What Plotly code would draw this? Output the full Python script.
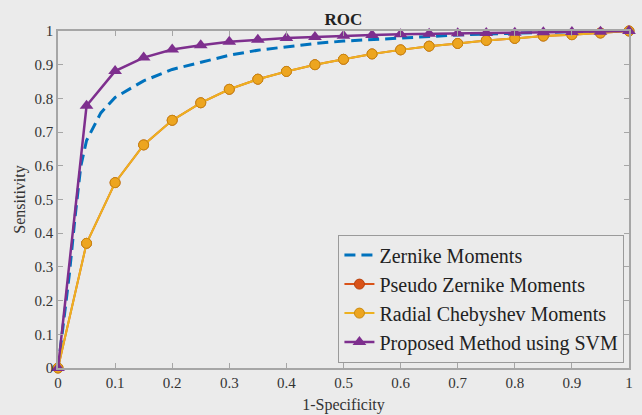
import plotly.graph_objects as go

# 1-Specificity sample points for marker series
fpr = [0, 0.05, 0.1, 0.15, 0.2, 0.25, 0.3, 0.35, 0.4, 0.45, 0.5,
       0.55, 0.6, 0.65, 0.7, 0.75, 0.8, 0.85, 0.9, 0.95, 1.0]

# Zernike Moments (smooth dashed curve)
zm_fpr = [0, 0.01, 0.02, 0.03, 0.04, 0.05, 0.075, 0.1, 0.15, 0.2, 0.25, 0.3,
          0.35, 0.4, 0.45, 0.5, 0.55, 0.6, 0.65, 0.7, 0.75, 0.8, 0.85, 0.9, 0.95, 1.0]
zm_tpr = [0, 0.14, 0.28, 0.45, 0.6, 0.675, 0.757, 0.803, 0.852, 0.886, 0.908, 0.928,
          0.943, 0.953, 0.963, 0.97, 0.975, 0.98, 0.984, 0.988, 0.991, 0.994, 0.996,
          0.998, 0.999, 1.0]

# Pseudo Zernike Moments (hidden beneath Radial Chebyshev)
pzm_tpr = [0, 0.37, 0.55, 0.662, 0.735, 0.787, 0.827, 0.857, 0.88, 0.9, 0.916,
           0.932, 0.944, 0.955, 0.963, 0.972, 0.978, 0.985, 0.989, 0.994, 1.0]

# Radial Chebyshev Moments
rcm_tpr = [0, 0.37, 0.55, 0.662, 0.735, 0.787, 0.827, 0.857, 0.88, 0.9, 0.916,
           0.932, 0.944, 0.955, 0.963, 0.972, 0.978, 0.985, 0.989, 0.994, 1.0]

# Proposed Method using SVM
svm_tpr = [0, 0.778, 0.881, 0.921, 0.945, 0.958, 0.968, 0.974, 0.979, 0.982, 0.986,
           0.988, 0.99, 0.992, 0.993, 0.994, 0.995, 0.996, 0.997, 0.998, 1.0]

names = ["Zernike Moments", "Pseudo Zernike Moments",
         "Radial Chebyshev Moments", "Proposed Method using SVM"]

BG = "#ebebeb"
FONT = "Liberation Serif, Times New Roman, Times, serif"

fig = go.Figure()
fig.add_trace(go.Scatter(x=zm_fpr, y=zm_tpr, mode="lines", name=names[0],
                         line=dict(color="#0072BD", width=3, dash="11px,6px"),
                         cliponaxis=False))
fig.add_trace(go.Scatter(x=fpr, y=pzm_tpr, mode="lines+markers", name=names[1],
                         line=dict(color="#D95319", width=2),
                         marker=dict(symbol="circle", size=10, color="#D95319",
                                     line=dict(color="#B8430F", width=1)),
                         cliponaxis=False))
fig.add_trace(go.Scatter(x=fpr, y=rcm_tpr, mode="lines+markers", name=names[2],
                         line=dict(color="#EDB120", width=2),
                         marker=dict(symbol="circle", size=10, color="#EDA520",
                                     line=dict(color="#C98A10", width=1)),
                         cliponaxis=False))
fig.add_trace(go.Scatter(x=fpr, y=svm_tpr, mode="lines+markers", name=names[3],
                         line=dict(color="#7E2F8E", width=2.5),
                         marker=dict(symbol="triangle-up", size=12, color="#7E2F8E"),
                         cliponaxis=False))

axis_common = dict(range=[0, 1], dtick=0.1, showgrid=False, zeroline=False,
                   showline=True, linecolor="#a6a6a6", linewidth=1.5,
                   mirror="ticks", ticks="inside", ticklen=5, tickcolor="#a6a6a6",
                   automargin=False,
                   tickfont=dict(family=FONT, size=15, color="#333333"))

fig.update_layout(
    width=642, height=415,
    font=dict(family=FONT, color="#333333"),
    paper_bgcolor=BG, plot_bgcolor=BG,
    margin=dict(l=58, r=13, t=31, b=47),
    title=dict(text="<b>ROC</b>", x=0.535, xanchor="center", y=0.955, yanchor="middle",
               font=dict(family=FONT, size=17, color="#222222")),
    xaxis=dict(**axis_common, title=dict(text="1-Specificity", standoff=9,
                                         font=dict(family=FONT, size=16, color="#333333"))),
    yaxis=dict(**axis_common, title=dict(text="Sensitivity", standoff=5,
                                         font=dict(family=FONT, size=16, color="#333333"))),
    legend=dict(x=0.992, y=0.016, xanchor="right", yanchor="bottom",
                bgcolor=BG, bordercolor="#9a9a9a", borderwidth=1,
                font=dict(family=FONT, size=20, color="#222222"),
                itemwidth=30, tracegroupgap=0),
    showlegend=True,
)

fig.write_html("out.html",
               config={"displayModeBar": False},
               post_script="document.body.style.margin='0';"
                           "document.body.style.background='#ebebeb';")
